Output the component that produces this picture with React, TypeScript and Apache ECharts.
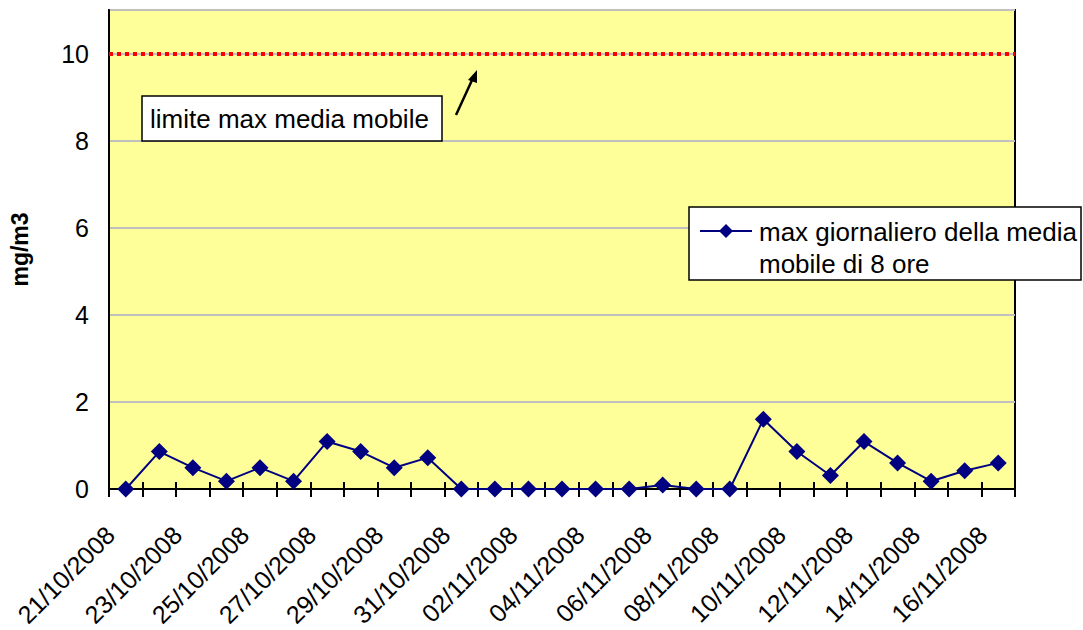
import React, { useEffect, useRef } from "react";
import * as echarts from "echarts";

const categories = [
  "21/10/2008", "22/10/2008", "23/10/2008", "24/10/2008", "25/10/2008", "26/10/2008",
  "27/10/2008", "28/10/2008", "29/10/2008", "30/10/2008", "31/10/2008", "01/11/2008",
  "02/11/2008", "03/11/2008", "04/11/2008", "05/11/2008", "06/11/2008", "07/11/2008",
  "08/11/2008", "09/11/2008", "10/11/2008", "11/11/2008", "12/11/2008", "13/11/2008",
  "14/11/2008", "15/11/2008", "16/11/2008",
];
const values = [
  0, 0.86, 0.49, 0.18, 0.49, 0.18, 1.09, 0.86, 0.49, 0.72, 0, 0, 0, 0, 0, 0, 0.09, 0, 0,
  1.6, 0.86, 0.31, 1.09, 0.6, 0.18, 0.42, 0.6,
];
const limitValue = 10;
const seriesName = "max giornaliero della media mobile di 8 ore";
const legendLines = ["max giornaliero della media", "mobile di 8 ore"];
const annotationText = "limite max media mobile";
const yAxisName = "mg/m3";

const FONT = "'Liberation Sans', Arial, sans-serif";

export default function App() {
  const ref = useRef<HTMLDivElement>(null);
  useEffect(() => {
    if (!ref.current) return;
    const chart = echarts.init(ref.current, undefined, { renderer: "svg" });
    chart.setOption({
      animation: false,
      backgroundColor: "#ffffff",
      textStyle: { fontFamily: FONT },
      grid: {
        left: 108,
        right: 68,
        top: 10,
        bottom: 139,
        show: true,
        backgroundColor: "#FFFF99",
        borderColor: "#000000",
        borderWidth: 2,
      },
      xAxis: [
        {
          type: "category",
          data: categories,
          boundaryGap: true,
          axisLine: { lineStyle: { color: "#000", width: 2 } },
          axisTick: { show: true, interval: 0, length: 8, lineStyle: { color: "#000", width: 2 } },
          axisLabel: {
            interval: 1,
            rotate: 45,
            fontSize: 25,
            color: "#000",
            fontFamily: FONT,
            margin: 26,
            padding: [0, 22, 0, 0],
          },
          splitLine: { show: false },
        },
        {
          type: "category",
          data: categories,
          position: "bottom",
          boundaryGap: true,
          axisLine: { show: false },
          axisTick: { show: true, inside: true, interval: 0, length: 7, lineStyle: { color: "#000", width: 2 } },
          axisLabel: { show: false },
          splitLine: { show: false },
        },
      ],
      yAxis: {
        type: "value",
        min: 0,
        max: 11,
        interval: 2,
        name: yAxisName,
        nameLocation: "middle",
        nameGap: 78,
        nameRotate: 90,
        nameTextStyle: { fontSize: 23, fontWeight: "bold", color: "#000", fontFamily: FONT },
        axisLine: { show: true, lineStyle: { color: "#000", width: 2 } },
        axisTick: { show: false },
        axisLabel: {
          fontSize: 25,
          color: "#000",
          fontFamily: FONT,
          margin: 20,
          formatter: (v: number) => (v === 11 ? "" : String(v)),
        },
        splitLine: { show: true, lineStyle: { color: "#C0C0C0", width: 2 } },
      },
      series: [
        {
          name: seriesName,
          type: "line",
          data: values,
          color: "#000080",
          symbol: "diamond",
          symbolSize: 17,
          lineStyle: { color: "#000080", width: 2 },
          itemStyle: { color: "#000080" },
          markLine: {
            silent: true,
            symbol: ["none", "none"],
            label: { show: false },
            lineStyle: { color: "#FF0000", type: [4, 4], width: 4 },
            data: [{ yAxis: limitValue }],
          },
        },
      ],
      graphic: [
        {
          type: "group",
          z: 100,
          children: [
            {
              type: "rect",
              z: 100,
              shape: { x: 142, y: 96, width: 300, height: 45 },
              style: { fill: "#fff", stroke: "#000", lineWidth: 1.5 },
            },
            {
              type: "text",
              z: 101,
              x: 150,
              y: 119,
              style: {
                text: annotationText,
                font: `26px ${FONT}`,
                fill: "#000",
                verticalAlign: "middle",
              },
            },
            {
              type: "line",
              z: 100,
              shape: { x1: 456, y1: 115, x2: 473, y2: 78 },
              style: { stroke: "#000", lineWidth: 2.5 },
            },
            {
              type: "polygon",
              z: 100,
              shape: { points: [[477, 70], [468, 80], [477, 83]] },
              style: { fill: "#000" },
            },
            {
              type: "rect",
              z: 100,
              shape: { x: 689, y: 207, width: 392, height: 73 },
              style: { fill: "#fff", stroke: "#000", lineWidth: 1.5 },
            },
            {
              type: "line",
              z: 101,
              shape: { x1: 700, y1: 231, x2: 752, y2: 231 },
              style: { stroke: "#000080", lineWidth: 2 },
            },
            {
              type: "polygon",
              z: 102,
              shape: { points: [[726, 224], [733, 231], [726, 238], [719, 231]] },
              style: { fill: "#000080" },
            },
            {
              type: "text",
              z: 101,
              x: 759,
              y: 232,
              style: {
                text: legendLines[0],
                font: `26px ${FONT}`,
                fill: "#000",
                verticalAlign: "middle",
              },
            },
            {
              type: "text",
              z: 101,
              x: 759,
              y: 264,
              style: {
                text: legendLines[1],
                font: `26px ${FONT}`,
                fill: "#000",
                verticalAlign: "middle",
              },
            },
          ],
        },
      ],
    });
    return () => chart.dispose();
  }, []);
  return <div ref={ref} style={{ width: 1083, height: 630, position: "absolute", left: 0, top: 0 }} />;
}
